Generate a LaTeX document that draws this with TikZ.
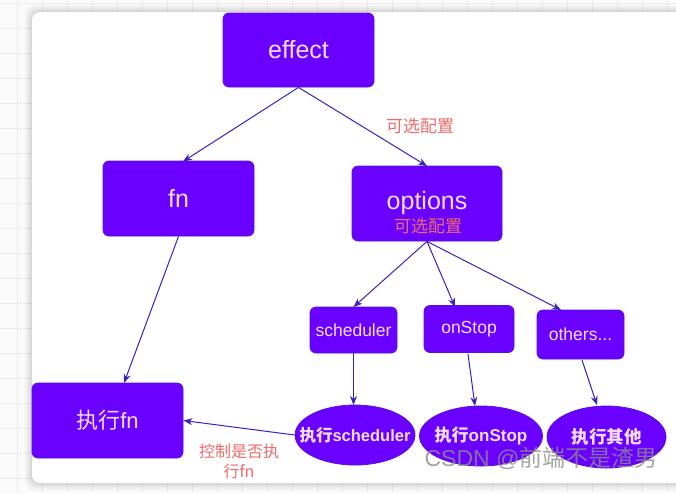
\documentclass[tikz,border=0pt]{standalone}
\usepackage{fontspec}
\setmainfont{Liberation Sans}
\newfontfamily\cjk{Noto Sans CJK SC}
\usetikzlibrary{shapes.geometric,arrows.meta}
\definecolor{boxfill}{HTML}{6A00FF}
\definecolor{boxline}{HTML}{5A10D8}
\definecolor{boxtext}{HTML}{F4DDFF}
\definecolor{arrowc}{HTML}{3A22C0}
\definecolor{labelc}{HTML}{F06A6A}
\definecolor{gridc}{HTML}{ECECEF}
\tikzset{
  rbox/.style={draw=boxline, fill=boxfill, rounded corners=6pt, line width=0.8pt,
    text=boxtext, align=center, inner sep=0pt},
  ebox/.style={ellipse, draw=boxline, fill=boxfill, line width=0.8pt,
    text=boxtext, align=center, inner sep=0pt},
  conn/.style={draw=arrowc, line width=1pt, -{Stealth[length=9pt,width=7pt]}},
  lbl/.style={text=labelc, font=\cjk\fontsize{16}{20}\selectfont, align=center},
}
\begin{document}
\begin{tikzpicture}[x=1pt,y=-1pt]
\useasboundingbox (0,0) rectangle (676,493);
\fill[white!97!gray] (0,0) rectangle (676,493);
\foreach \x in {17,42,...,676} \draw[gridc, line width=0.6pt] (\x,0) -- (\x,493);
\foreach \y in {3,28,...,493} \draw[gridc, line width=0.6pt] (0,\y) -- (676,\y);
% card shadow
\foreach \i/\o in {8/0.02,6/0.03,4/0.04,2/0.05}
  \fill[black, opacity=\o, rounded corners=10pt] (32-\i,12-\i) rectangle (690+\i,483+\i);
\fill[white, rounded corners=8pt] (32,12) rectangle (690,483);

% nodes
\node[rbox, minimum width=151pt, minimum height=74pt, font=\fontsize{25}{28}\selectfont] (effect) at (298.5,50) {effect};
\node[rbox, minimum width=151pt, minimum height=75pt, font=\fontsize{25}{28}\selectfont] (fn) at (178.5,198.5) {fn};
\node[rbox, minimum width=150pt, minimum height=75pt] (options) at (427,203.5) {};
\node[text=boxtext, font=\fontsize{25}{28}\selectfont] (optt) at (427,203) {options};
\node[lbl, font=\cjk\fontsize{17}{18}\selectfont] (optl) at (428,226) {可选配置};
\node[rbox, minimum width=87pt, minimum height=46pt, font=\fontsize{17.5}{20}\selectfont] (sched) at (353.5,330) {scheduler};
\node[rbox, minimum width=90pt, minimum height=47pt, font=\fontsize{17.5}{20}\selectfont] (onstop) at (469,329) {onStop};
\node[rbox, minimum width=87pt, minimum height=49pt, font=\fontsize{17.5}{20}\selectfont] (others) at (580.5,334.5) {others...};
\node[rbox, minimum width=151pt, minimum height=75pt, font=\fontsize{22}{24}\selectfont] (exfn) at (107.5,420.5) {{\cjk 执行}fn};
\node[ebox, minimum width=120pt, minimum height=60pt, font=\fontsize{16.5}{18}\selectfont\bfseries] (exsched) at (355,435) {\makebox[0pt]{{\cjk 执行}scheduler}};
\node[ebox, minimum width=123pt, minimum height=60pt, font=\fontsize{17}{18}\selectfont\bfseries] (exstop) at (481,436) {\makebox[0pt]{{\cjk 执行}onStop}};
\node[ebox, minimum width=119pt, minimum height=62pt, font=\cjk\fontsize{17.5}{18}\selectfont\bfseries] (exother) at (606.5,437) {\makebox[0pt]{执行其他}};

% labels
\node[lbl, font=\cjk\fontsize{17}{18}\selectfont] (l1) at (420,126) {可选配置};
\node[lbl] (l2) at (239,461) {控制是否执\\行fn};

% connectors
\draw[conn] (effect.south) -- (183,161.5);
\draw[conn] (effect.south) -- (427,166);
\draw[conn] (fn.south) -- (124,383);
\draw[conn] (options.south) -- (353.5,307);
\draw[conn] (options.south) -- (455,307);
\draw[conn] (options.south) -- (561,310);
\draw[conn] (sched.south) -- (353.5,405);
\draw[conn] (468,354) -- (475,406);
\draw[conn] (582,360) -- (597,405);
\draw[conn] (exsched.west) -- (exfn.east);

% watermark
\node[text=black!45, opacity=0.8, font=\fontsize{23}{24}\selectfont] (wm) at (541,458) {CSDN @{\cjk 前端不是渣男}};
\end{tikzpicture}
\end{document}
